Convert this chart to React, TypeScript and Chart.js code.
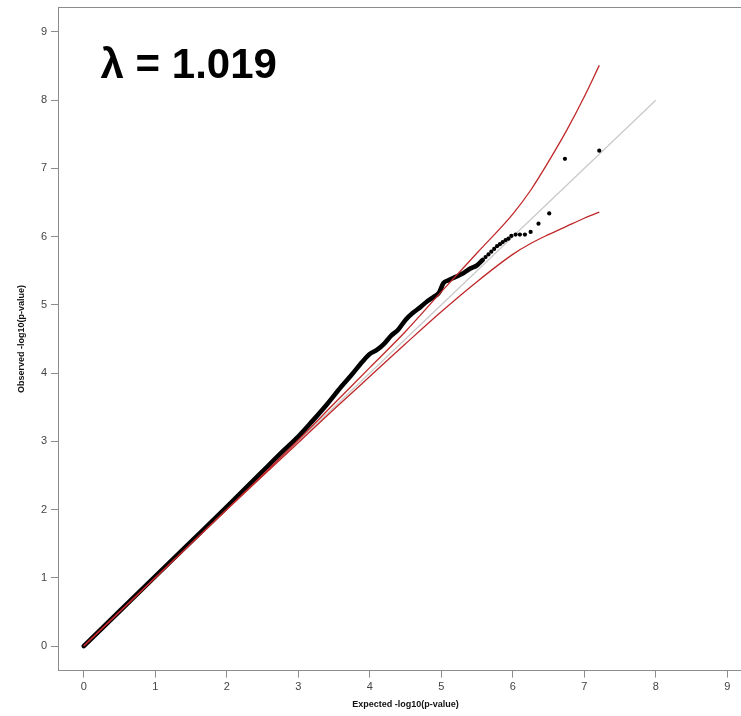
import React, { useEffect, useRef } from "react";
import { Chart, registerables } from "chart.js";

Chart.register(...registerables);

const expectedDense = [0, 0.5, 1, 1.5, 2, 2.5, 2.8, 3.0, 3.2, 3.4, 3.6, 3.75, 3.9, 4.0, 4.1, 4.2, 4.3, 4.4, 4.5, 4.6, 4.7, 4.8, 4.9, 4.97, 5.03, 5.1, 5.2, 5.3, 5.4, 5.5, 5.58];
const observedDense = [0, 0.51, 1.02, 1.53, 2.04, 2.56, 2.87, 3.07, 3.3, 3.54, 3.8, 3.98, 4.17, 4.28, 4.34, 4.43, 4.55, 4.64, 4.78, 4.88, 4.96, 5.05, 5.12, 5.18, 5.32, 5.36, 5.41, 5.46, 5.53, 5.58, 5.66];

const expectedTail = [5.62, 5.66, 5.7, 5.74, 5.78, 5.82, 5.86, 5.9, 5.94, 5.98, 6.04, 6.1, 6.17, 6.25, 6.36, 6.51, 6.73, 7.21];
const observedTail = [5.7, 5.74, 5.78, 5.82, 5.86, 5.89, 5.92, 5.95, 5.97, 6.01, 6.03, 6.03, 6.03, 6.07, 6.19, 6.34, 7.14, 7.26];

const ciExpected = [0, 1, 2, 3, 3.5, 4, 4.5, 5, 5.5, 6, 6.25, 6.5, 6.75, 7, 7.21];
const ciUpper = [0, 1.0, 2.0, 3.02, 3.55, 4.08, 4.61, 5.19, 5.76, 6.33, 6.68, 7.1, 7.55, 8.05, 8.51];
const ciLower = [0, 1.0, 2.0, 2.98, 3.47, 3.95, 4.43, 4.9, 5.34, 5.74, 5.9, 6.03, 6.15, 6.27, 6.36];

const diagX = [0, 8];
const diagY = [0, 8];

const xTicks = [0, 1, 2, 3, 4, 5, 6, 7, 8, 9];
const yTicks = [0, 1, 2, 3, 4, 5, 6, 7, 8, 9];

const lambdaLabel = "λ = 1.019";
const xTitle = "Expected -log10(p-value)";
const yTitle = "Observed -log10(p-value)";

const AX_MIN = -0.36;
const AX_MAX = 9.36;

const zip = (xs: number[], ys: number[]) => xs.map((x, i) => ({ x, y: ys[i] }));

const FONT = "'Liberation Sans', Arial, Helvetica, sans-serif";

const decorPlugin = {
  id: "decor",
  beforeDatasetsDraw(chart: any) {
    const { ctx, chartArea } = chart;
    ctx.save();
    ctx.strokeStyle = "#8c8c8c";
    ctx.lineWidth = 1;
    ctx.strokeRect(
      Math.round(chartArea.left) + 0.5,
      Math.round(chartArea.top) + 0.5,
      Math.round(chartArea.right - chartArea.left),
      Math.round(chartArea.bottom - chartArea.top)
    );
    ctx.restore();
  },
  afterDraw(chart: any) {
    const { ctx, chartArea, scales } = chart;
    ctx.save();
    ctx.fillStyle = "#000";
    ctx.font = `bold 42px ${FONT}`;
    ctx.textAlign = "left";
    ctx.textBaseline = "alphabetic";
    ctx.fillText(lambdaLabel, scales.x.getPixelForValue(0.235), scales.y.getPixelForValue(8.33));
    ctx.font = `bold 9px ${FONT}`;
    ctx.fillStyle = "#111";
    ctx.textAlign = "center";
    ctx.textBaseline = "middle";
    ctx.fillText(xTitle, (chartArea.left + chartArea.right) / 2, 705);
    ctx.translate(22, (chartArea.top + chartArea.bottom) / 2);
    ctx.rotate(-Math.PI / 2);
    ctx.fillText(yTitle, 0, 0);
    ctx.restore();
  },
};

export default function App() {
  const ref = useRef<HTMLCanvasElement | null>(null);
  useEffect(() => {
    if (!ref.current) return;
    const chart = new Chart(ref.current, {
      type: "scatter",
      data: {
        datasets: [
          {
            label: "CI upper",
            data: zip(ciExpected, ciUpper),
            showLine: true,
            borderColor: "#c0282a",
            borderWidth: 1.3,
            pointRadius: 0,
            cubicInterpolationMode: "monotone",
          },
          {
            label: "CI lower",
            data: zip(ciExpected, ciLower),
            showLine: true,
            borderColor: "#c0282a",
            borderWidth: 1.3,
            pointRadius: 0,
            cubicInterpolationMode: "monotone",
          },
          {
            label: "Observed tail",
            data: zip(expectedTail, observedTail),
            showLine: false,
            backgroundColor: "#000",
            borderColor: "#000",
            borderWidth: 0,
            pointRadius: 2.1,
          },
          {
            label: "Observed",
            data: zip(expectedDense, observedDense),
            showLine: true,
            borderColor: "#000",
            borderWidth: 4.6,
            borderCapStyle: "round",
            borderJoinStyle: "round",
            pointRadius: 0,
            cubicInterpolationMode: "monotone",
          },
          {
            label: "Null",
            data: zip(diagX, diagY),
            showLine: true,
            borderColor: "#c8c8c8",
            borderWidth: 1.2,
            pointRadius: 0,
          },
        ],
      } as any,
      options: {
        animation: false,
        responsive: false,
        devicePixelRatio: 1,
        layout: { padding: { left: 0, top: 7.4, right: 17, bottom: 0 } },
        plugins: {
          legend: { display: false },
          tooltip: { enabled: false },
        },
        scales: {
          x: {
            type: "linear",
            min: AX_MIN,
            max: AX_MAX,
            afterBuildTicks: (s: any) => {
              s.ticks = xTicks.map((v) => ({ value: v }));
            },
            afterFit: (s: any) => {
              s.height = 45.4;
              s.paddingLeft = 0;
              s.paddingRight = 0;
            },
            grid: { display: true, drawOnChartArea: false, drawTicks: true, tickLength: 7, color: "#8c8c8c" },
            border: { display: false },
            ticks: {
              padding: 3,
              color: "#444",
              font: { family: FONT, size: 11 },
              maxRotation: 0,
              callback: (v: any) => String(v),
            },
          },
          y: {
            type: "linear",
            min: AX_MIN,
            max: AX_MAX,
            afterBuildTicks: (s: any) => {
              s.ticks = yTicks.map((v) => ({ value: v }));
            },
            afterFit: (s: any) => {
              s.width = 58;
              s.paddingTop = 0;
              s.paddingBottom = 0;
            },
            grid: { display: true, drawOnChartArea: false, drawTicks: true, tickLength: 7, color: "#8c8c8c" },
            border: { display: false },
            ticks: {
              padding: 4,
              color: "#444",
              font: { family: FONT, size: 11 },
              callback: (v: any) => String(v),
            },
          },
        },
      } as any,
      plugins: [decorPlugin],
    });
    return () => chart.destroy();
  }, []);

  return (
    <div style={{ position: "fixed", left: 0, top: 0, width: 741, height: 716, overflow: "hidden", background: "#fff" }}>
      <canvas ref={ref} width={770} height={716} style={{ width: 770, height: 716, display: "block" }} />
    </div>
  );
}
